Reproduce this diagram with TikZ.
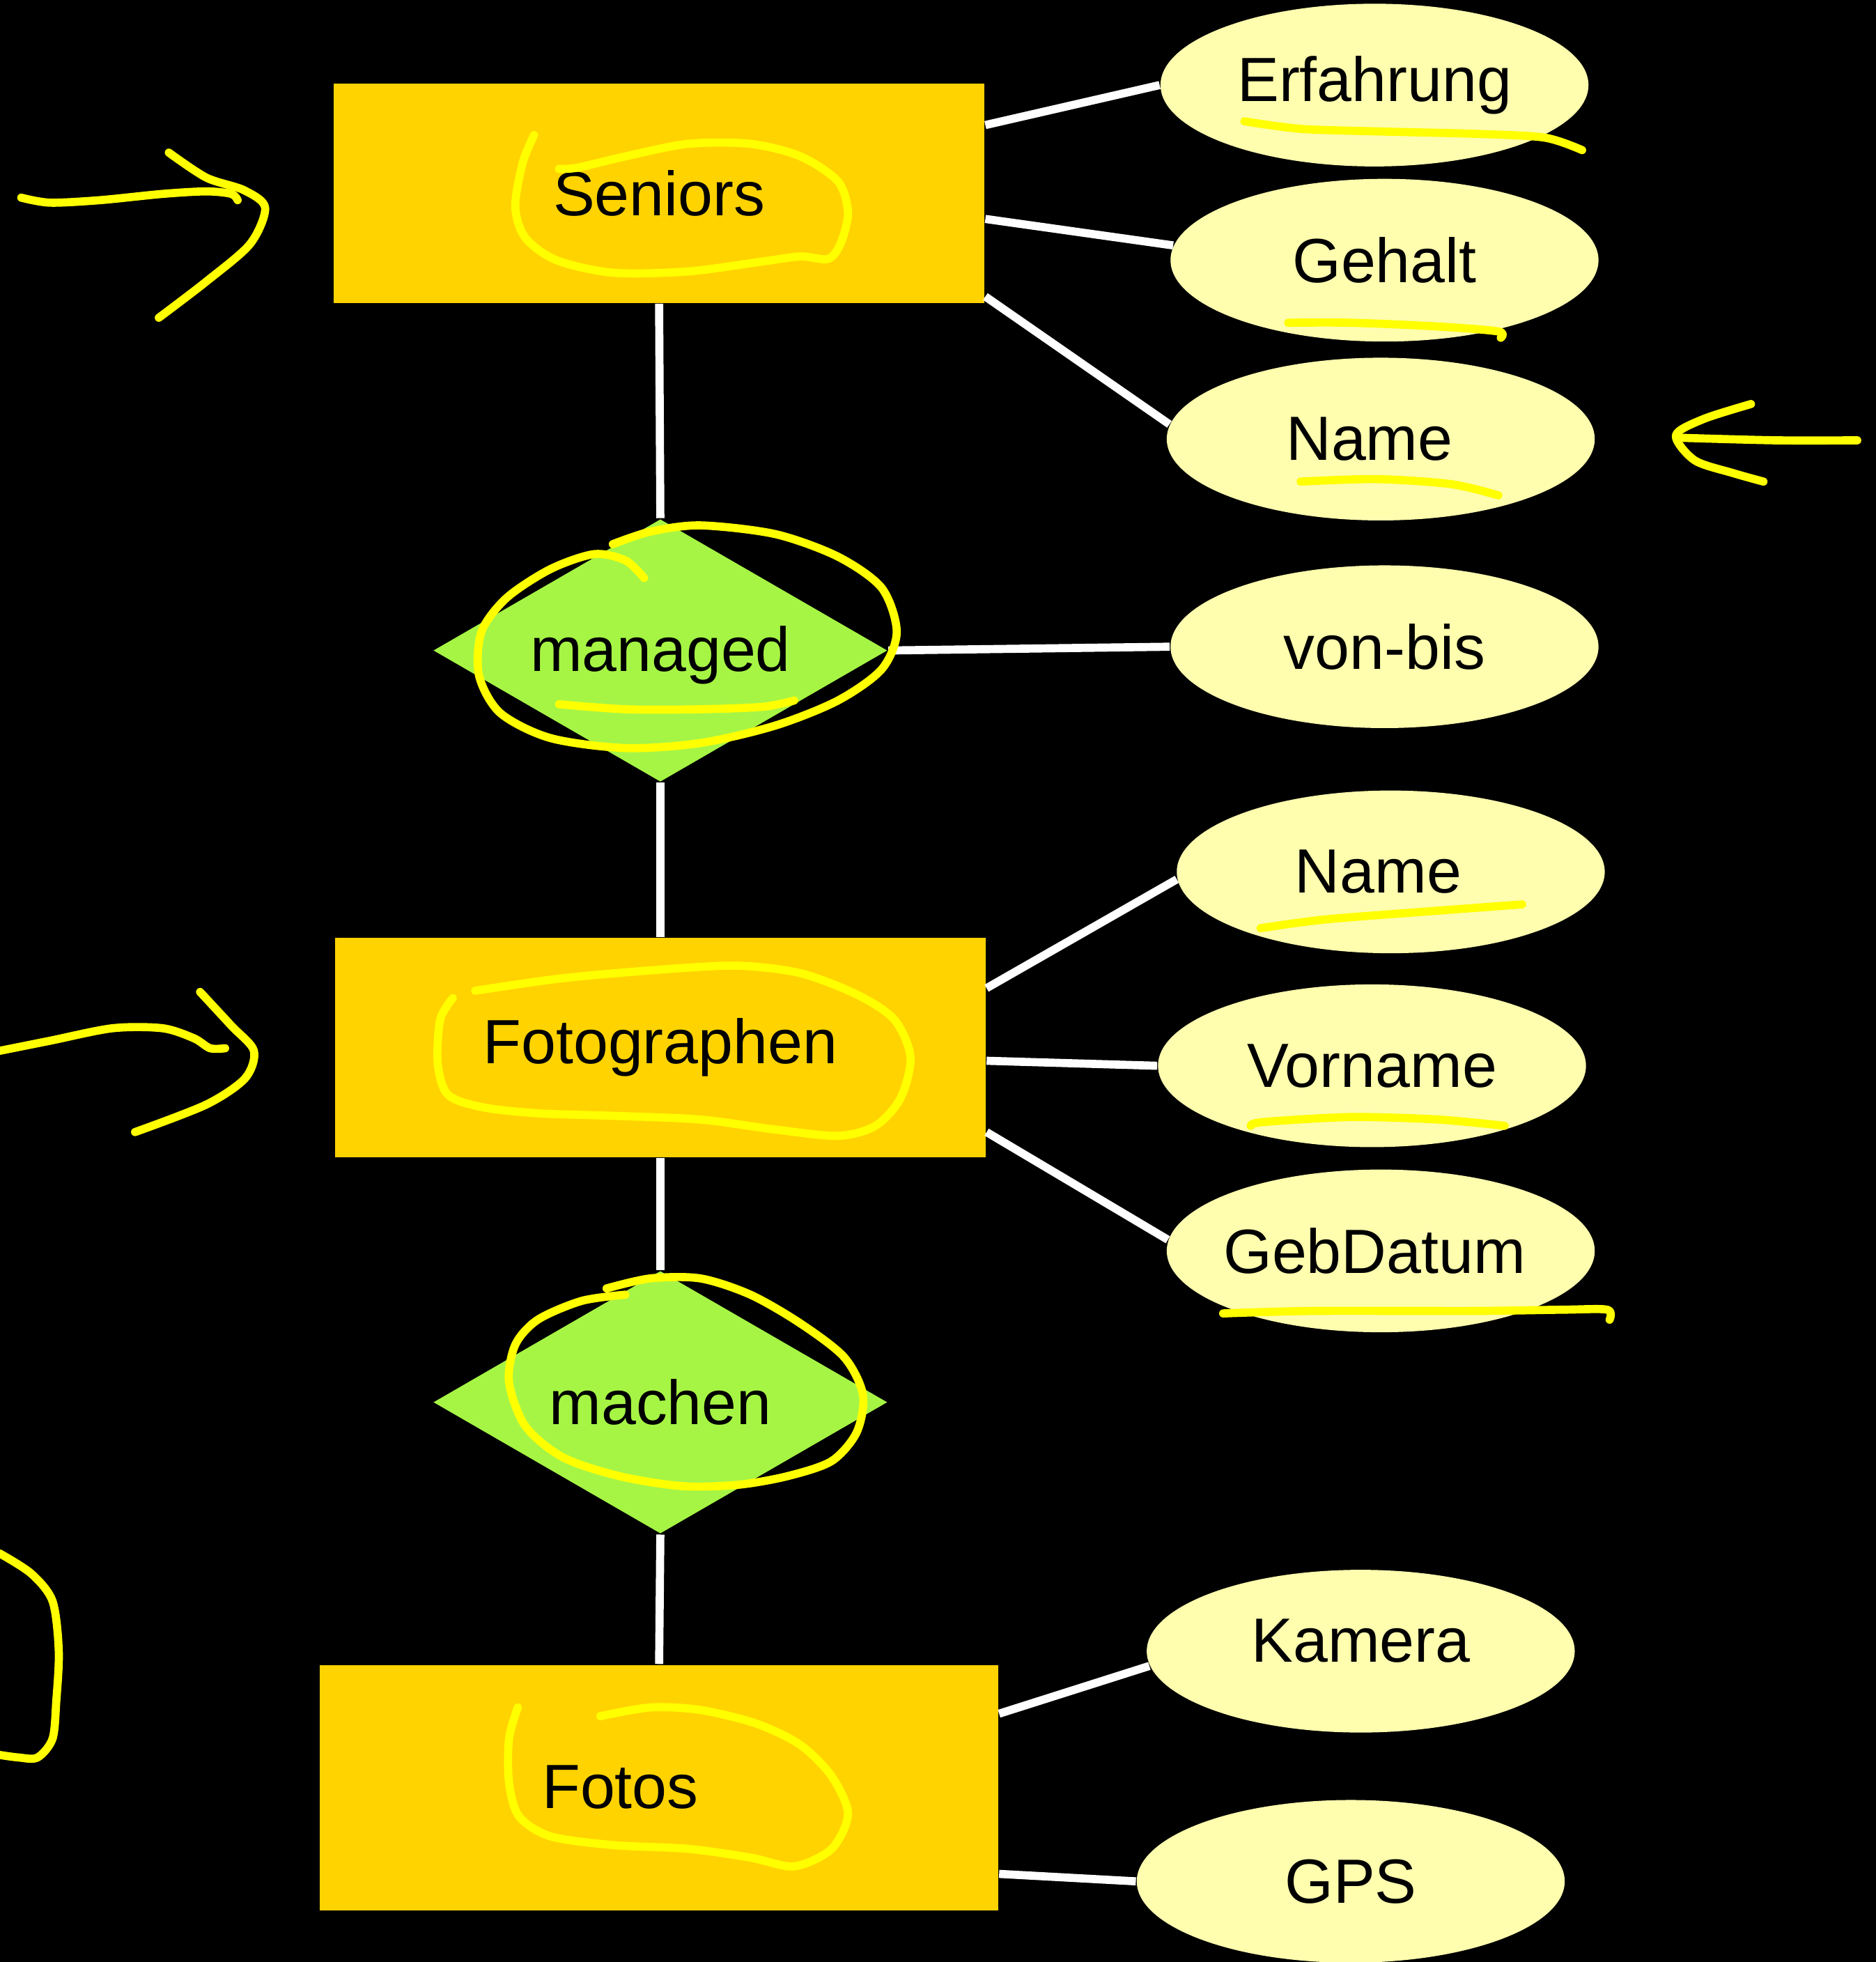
\documentclass[tikz,border=0pt]{standalone}
\usepackage{fontspec}
\setmainfont{Liberation Sans}
\usetikzlibrary{shapes.geometric}
\definecolor{entgold}{HTML}{FFD300}
\definecolor{relgreen}{HTML}{A6F545}
\definecolor{attrpale}{HTML}{FFFDAE}
\definecolor{markyel}{HTML}{FFFF00}
\tikzset{
  entity/.style={rectangle, fill=entgold, inner sep=0pt, minimum width=5.2cm, minimum height=1.75cm},
  relation/.style={diamond, fill=relgreen, inner sep=0pt, aspect=1.73, minimum width=3.63cm, minimum height=2.1cm},
  attr/.style={ellipse, fill=attrpale, inner sep=0pt, minimum width=3.42cm, minimum height=1.3cm},
  conn/.style={draw=white, line width=0.065cm},
  marker/.style={draw=markyel, line width=0.065cm, line cap=round, line join=round},
}
\begin{document}
\begin{tikzpicture}[x=0.01cm, y=-0.01cm, font=\fontsize{14.2}{17}\selectfont]
\fill[black] (0,0) rectangle (1500,1568.5);
\useasboundingbox (0,0) rectangle (1500,1568.5);

% entities
\node[entity] (sen) at (527,154.5) {Seniors};
\node[entity] (fot) at (528,837.5) {Fotographen};
\node[entity, minimum width=5.42cm, minimum height=1.96cm, label={[xshift=-0.31cm]center:Fotos}] (fts) at (527,1429) {};

% relations
\node[relation, label={[yshift=-0.04cm]center:managed}] (man) at (528,520) {};
\node[relation] (mac) at (528,1121) {machen};

% attributes
\node[attr] (erf) at (1099,68) {Erfahrung};
\node[attr] (geh) at (1107,208) {Gehalt};
\node[attr] (nm1) at (1104,351) {\hspace*{-0.18cm}Name};
\node[attr] (vb)  at (1107,517) {von-bis};
\node[attr] (nm2) at (1112,697) {\hspace*{-0.2cm}Name};
\node[attr] (vor) at (1097,852) {Vorname};
\node[attr] (geb) at (1104,1000) {\hspace*{-0.1cm}GebDatum};
\node[attr, label={[yshift=0.08cm]center:Kamera}] (kam) at (1088,1320) {};
\node[attr] (gps) at (1080,1504) {GPS};

% connectors
\draw[conn] ([yshift=0.545cm]sen.east) -- (erf.west);
\draw[conn] ([yshift=-0.205cm]sen.east) -- (geh.176);
\draw[conn] ([yshift=-0.825cm]sen.east) -- (nm1.176.5);
\draw[conn] (sen.south) -- (man.north);
\draw[conn] (man.east) -- (vb.west);
\draw[conn] (man.south) -- (fot.north);
\draw[conn] ([yshift=0.475cm]fot.east) -- (nm2.182);
\draw[conn] ([yshift=-0.105cm]fot.east) -- (vor.west);
\draw[conn] ([yshift=-0.675cm]fot.east) -- (geb.177.5);
\draw[conn] (fot.south) -- (mac.north);
\draw[conn] (mac.south) -- (fts.north);
\draw[conn] ([yshift=0.59cm]fts.east) -- (kam.184.5);
\draw[conn] ([yshift=-0.69cm]fts.east) -- (gps.west);

% hand-drawn marks
% arrow to Seniors
\draw[marker] plot[smooth] coordinates {(17,158) (40,162) (80,160) (130,155) (165,153) (185,155) (190,160)};
\draw[marker] plot[smooth] coordinates {(135,122) (165,142) (195,152) (212,166) (200,195) (165,225) (127,254)};
% arrow to Name
\draw[marker] plot[smooth] coordinates {(1485,352) (1420,352) (1345,350)};
\draw[marker] plot[smooth] coordinates {(1400,323) (1362,335) (1340,348) (1355,368) (1385,378) (1410,385)};
% arrow to Fotographen
\draw[marker] plot[smooth] coordinates {(0,840) (40,832) (90,822) (130,822) (155,830) (168,838) (180,838)};
\draw[marker] plot[smooth] coordinates {(160,793) (185,820) (203,840) (196,862) (165,883) (108,905)};
% bracket at bottom left
\draw[marker] plot[smooth] coordinates {(0,1242) (25,1258) (42,1280) (47,1320) (45,1360) (42,1390) (30,1405) (15,1405) (0,1403)};

% loop Seniors
\draw[marker] plot[smooth] coordinates {(427,108) (418,130) (412,165) (420,190) (445,208) (490,218) (550,217) (610,209) (640,205) (662,207) (672,195) (678,170) (670,145) (640,125) (600,115) (550,115) (500,125) (462,134) (447,135)};
% loop managed
\draw[marker] plot[smooth] coordinates {(515,462) (500,448) (475,443) (440,455) (405,478) (385,505) (383,540) (400,570) (440,590) (500,598) (560,594) (620,580) (670,560) (705,535) (717,505) (705,470) (670,445) (620,427) (560,420) (520,425) (490,435)};
\draw[marker] plot[smooth] coordinates {(447,563) (500,567) (560,567) (610,565) (635,560)};
% loop Fotographen
\draw[marker] plot[smooth] coordinates {(362,798) (352,815) (350,850) (358,875) (385,885) (430,890) (490,892) (560,895) (620,903) (670,908) (700,900) (720,878) (728,845) (715,815) (685,795) (640,778) (590,772) (530,775) (450,782) (380,792)};
% loop machen
\draw[marker] plot[smooth] coordinates {(485,1030) (520,1022) (560,1022) (600,1035) (640,1058) (675,1085) (690,1115) (685,1145) (665,1168) (630,1180) (590,1187) (545,1188) (495,1180) (450,1165) (420,1140) (407,1105) (412,1075) (430,1055) (465,1040) (500,1035)};
% loop Fotos
\draw[marker] plot[smooth] coordinates {(414,1365) (407,1390) (407,1425) (415,1452) (440,1468) (490,1475) (550,1478) (600,1485) (635,1492) (665,1478) (678,1450) (665,1420) (640,1395) (605,1378) (560,1367) (520,1365) (480,1372)};

% underlines
\draw[marker] plot[smooth] coordinates {(995,97) (1040,103) (1100,105) (1180,107) (1235,110) (1265,120)};
\draw[marker] plot[smooth] coordinates {(1030,258) (1080,258) (1150,261) (1198,265) (1200,270)};
\draw[marker] plot[smooth] coordinates {(1040,385) (1100,383) (1160,387) (1198,396)};
\draw[marker] plot[smooth] coordinates {(1008,742) (1060,735) (1150,728) (1217,723)};
\draw[marker] plot[smooth] coordinates {(1000,900) (1010,897) (1080,893) (1150,895) (1203,900)};
\draw[marker] plot[smooth] coordinates {(978,1050) (1050,1048) (1180,1048) (1250,1047) (1285,1047) (1287,1055)};
\end{tikzpicture}
\end{document}
